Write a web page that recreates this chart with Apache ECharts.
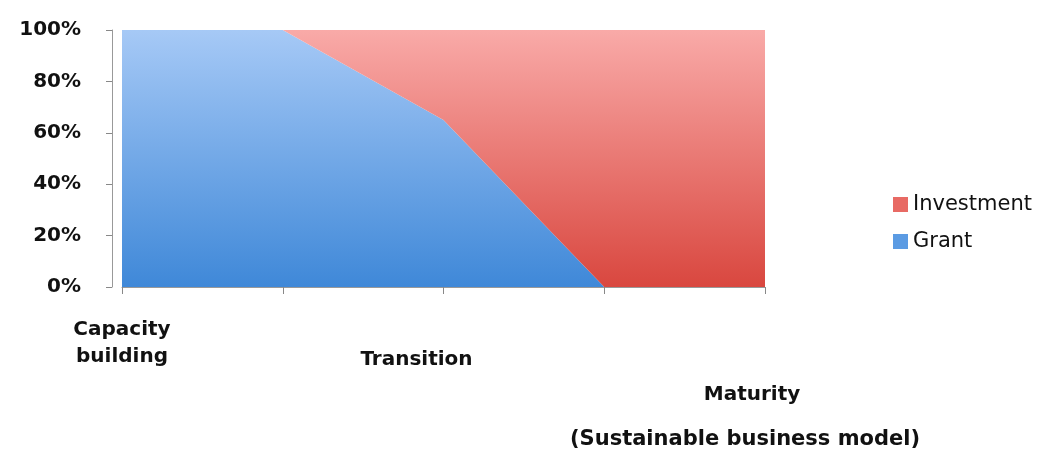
<!DOCTYPE html>
<html>
<head>
<meta charset="utf-8">
<title>Grant vs Investment</title>
<script src="https://cdn.jsdelivr.net/npm/echarts@6/dist/echarts.min.js"></script>
<style>
  html, body { margin: 0; padding: 0; background: #fff; }
  #chart { width: 1050px; height: 452px; }
</style>
</head>
<body>
<div id="chart"></div>
<script>
// stages along the x axis (only 3 are labelled, the rest are in-between points)
const stages = ['Capacity building', '', 'Transition', '', 'Maturity'];
const grant = [100, 100, 65, 0, 0];
const investment = [0, 0, 35, 100, 100];
const yTicks = [0, 20, 40, 60, 80, 100];

const chart = echarts.init(document.getElementById('chart'));

const font = 'DejaVu Sans, Verdana, sans-serif';
const lbl = { fontFamily: font, fontWeight: 'bold', fontSize: 20, color: '#111', lineHeight: 27 };

// spacer lines push each label down to mimic the tilted 3D floor of the original
function stageLabel(value, idx) {
  if (idx === 0) return '{s1| }\n{t|Capacity}\n{t|building}';
  if (idx === 2) return '{s2| }\n{tr|Transition}';
  if (idx === 4) return '{s3| }\n{ma|Maturity}\n{s4| }\n{su|(Sustainable business model)}';
  return '';
}

chart.setOption({
  animation: false,
  grid: { left: 122, right: 285, top: 30, bottom: 165 },
  legend: {
    orient: 'vertical',
    left: 888,
    top: 189,
    itemWidth: 15,
    itemHeight: 15,
    itemGap: 16,
    icon: 'rect',
    data: ['Investment', 'Grant'],
    textStyle: { fontFamily: font, fontSize: 21, color: '#111' }
  },
  xAxis: {
    type: 'category',
    boundaryGap: false,
    data: stages,
    axisLine: { lineStyle: { color: '#999' } },
    axisTick: { show: true, interval: 0, length: 7, lineStyle: { color: '#888' } },
    axisLabel: {
      interval: 0,
      margin: 8,
      verticalAlign: 'top',
      formatter: stageLabel,
      rich: {
        t: lbl,
        tr: Object.assign({}, lbl, { padding: [0, 54, 0, 0] }),
        ma: Object.assign({}, lbl, { padding: [0, 26, 0, 0] }),
        su: Object.assign({}, lbl, { fontSize: 21, padding: [0, 40, 0, 0] }),
        s1: { fontSize: 2, lineHeight: 21 },
        s2: { fontSize: 2, lineHeight: 51 },
        s3: { fontSize: 2, lineHeight: 86 },
        s4: { fontSize: 2, lineHeight: 18 }
      }
    }
  },
  yAxis: {
    type: 'value',
    min: 0,
    max: 100,
    interval: 20,
    offset: 10,
    axisLine: { show: true, lineStyle: { color: '#999' } },
    axisTick: { show: true, length: 6, lineStyle: { color: '#888' } },
    splitLine: { show: false },
    axisLabel: {
      margin: 31,
      fontFamily: font,
      fontWeight: 'bold',
      fontSize: 20,
      color: '#111',
      formatter: v => (yTicks.indexOf(v) >= 0 ? v + '%' : '')
    }
  },
  series: [
    {
      name: 'Grant',
      type: 'line',
      stack: 'total',
      data: grant,
      symbol: 'none',
      lineStyle: { width: 0 },
      itemStyle: { color: '#5b9be3' },
      areaStyle: {
        opacity: 1,
        color: new echarts.graphic.LinearGradient(0, 0, 0, 1, [
          { offset: 0, color: '#a6c9f6' },
          { offset: 1, color: '#3f88d8' }
        ])
      }
    },
    {
      name: 'Investment',
      type: 'line',
      stack: 'total',
      data: investment,
      symbol: 'none',
      lineStyle: { width: 0 },
      itemStyle: { color: '#e86a64' },
      areaStyle: {
        opacity: 1,
        color: new echarts.graphic.LinearGradient(0, 0, 0, 1, [
          { offset: 0, color: '#f9aaa8' },
          { offset: 1, color: '#d9473f' }
        ])
      }
    }
  ]
});
</script>
</body>
</html>
